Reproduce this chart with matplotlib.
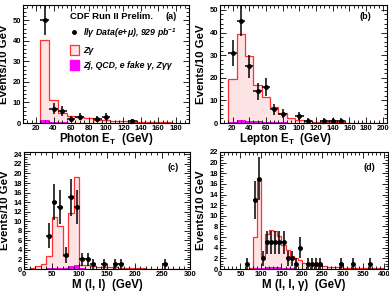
import numpy as np
import matplotlib.pyplot as plt
from matplotlib.ticker import MultipleLocator
from matplotlib.patches import Patch
from matplotlib.lines import Line2D

plt.rcParams['font.family'] = ['Liberation Sans', 'DejaVu Sans']
plt.rcParams['font.weight'] = 'bold'
plt.rcParams['hatch.linewidth'] = 0.4
plt.rcParams['hatch.color'] = '#f08080'

# ---- (a) photon ET ----
a_edges = np.arange(25, 195, 10)
a_zg = [40.5, 11.0, 4.8, 3.6, 2.9, 2.2, 1.6, 1.3, 1.0, 0.8, 0.6, 0.5, 0.4, 0.3, 0.3, 0.2]
a_bkg = [1.5, 0.6, 0.3, 0.2, 0.2, 0.1, 0.1, 0.1, 0.0, 0.0, 0.0, 0.0, 0.0, 0.0, 0.0, 0.0]
a_x = [30, 40, 50, 60, 70, 90, 100, 130]
a_n = [50, 7, 6, 2, 3, 2, 3, 1]
a_err = [7.1, 2.6, 2.4, 1.4, 1.7, 1.4, 1.7, 1.0]

# ---- (b) lepton ET ----
b_edges = np.arange(15, 205, 10)
b_zg = [19.5, 39.5, 29.5, 17.0, 11.5, 7.0, 4.5, 2.2, 1.5, 0.8, 0.6, 0.5, 0.4, 0.3, 0.2, 0.2, 0.1, 0.1]
b_bkg = [0.5, 1.2, 1.0, 0.7, 0.5, 0.4, 0.3, 0.2, 0.1, 0.1, 0.0, 0.0, 0.0, 0.0, 0.0, 0.0, 0.0, 0.0]
b_x = [20, 30, 40, 50, 60, 70, 80, 100, 110, 130, 140, 150]
b_n = [31, 45, 25, 14, 16, 6, 4, 3, 1, 1, 1, 1]
b_err = [5.6, 6.7, 5.0, 3.7, 4.0, 2.4, 2.0, 1.7, 1.0, 1.0, 1.0, 1.0]

# ---- (c) M(l,l) ----
c_edges = np.arange(10, 300, 10)
c_zg = [0.3, 0.6, 1.0, 2.8, 10.9, 9.0, 2.8, 11.8, 19.3, 0.9, 0.8, 0.6, 0.5, 0.5, 0.4,
        0.4, 0.3, 0.3, 0.2, 0.2, 0.2, 0.1, 0.1, 0.1, 0.1, 0.1, 0.1, 0.1]
c_bkg = [0.0, 0.0, 0.1, 0.2, 0.3, 0.3, 0.3, 0.6, 0.9, 0.3, 0.1, 0.1, 0.0, 0.0, 0.0,
         0.0, 0.0, 0.0, 0.0, 0.0, 0.0, 0.0, 0.0, 0.0, 0.0, 0.0, 0.0, 0.0]
c_x = [45, 55, 65, 75, 85, 95, 105, 115, 125, 145, 165, 175, 255]
c_n = [7, 14, 13, 3, 15, 13, 2, 2, 1, 1, 1, 1, 1]
c_err = [2.6, 3.7, 3.6, 1.7, 3.9, 3.6, 1.4, 1.4, 1.0, 1.0, 1.0, 1.0, 1.0]

# ---- (d) M(l,l,gamma) ----
d_edges = np.arange(70, 410, 10)
d_zg = [0.1, 6.0, 17.0, 2.5, 6.5, 7.3, 7.2, 6.2, 4.6, 3.5, 2.5, 2.0, 1.6, 1.2, 1.0, 0.8,
        0.8, 0.6, 0.5, 0.4, 0.3, 0.3, 0.3, 0.2, 0.2, 0.2, 0.1, 0.1, 0.1, 0.1, 0.1, 0.1, 0.1]
d_bkg = [0.0, 0.1, 0.2, 0.2, 0.3, 0.3, 0.3, 0.3, 0.2, 0.1, 0.1, 0.0, 0.0, 0.0, 0.0, 0.0,
         0.0, 0.0, 0.0, 0.0, 0.0, 0.0, 0.0, 0.0, 0.0, 0.0, 0.0, 0.0, 0.0, 0.0, 0.0, 0.0, 0.0]
d_x = [65, 85, 95, 105, 115, 125, 135, 145, 155, 165, 175, 185, 195, 215, 225, 235, 245, 295, 325, 365]
d_n = [1, 13, 17, 2, 5, 5, 5, 5, 5, 2, 2, 1, 4, 1, 1, 1, 1, 1, 1, 1]
d_err = [1.0, 3.6, 4.1, 1.4, 2.2, 2.2, 2.2, 2.2, 2.2, 1.4, 1.4, 1.0, 2.0, 1.0, 1.0, 1.0, 1.0, 1.0, 1.0, 1.0]

PINK = '#fde3e3'
RED = '#ff3030'
MAG = '#ff00ff'

fig = plt.figure(figsize=(3.89, 3.01), dpi=100)


def panel(rect, edges, zg, bkg, x, n, err, xlim, ylim, xmaj, xmin, ymaj, ymin, xlabel, tag, tagpos):
    ax = fig.add_axes(rect)
    ax.stairs(zg, edges, fill=True, facecolor=PINK, hatch='xxxx', edgecolor='none', linewidth=0)
    ax.stairs(zg, edges, color=RED, linewidth=0.9)
    ax.stairs(bkg, edges, fill=True, color=MAG, linewidth=0)
    ax.errorbar(x, n, yerr=err, xerr=5, fmt='o', color='black', ms=2.5,
                elinewidth=1.1, capsize=0, zorder=5)
    ax.set_xlim(*xlim)
    ax.set_ylim(*ylim)
    ax.xaxis.set_major_locator(MultipleLocator(xmaj))
    ax.xaxis.set_minor_locator(MultipleLocator(xmin))
    ax.yaxis.set_major_locator(MultipleLocator(ymaj))
    ax.yaxis.set_minor_locator(MultipleLocator(ymin))
    ax.tick_params(which='both', direction='in', top=True, right=True, width=0.6,
                   labelsize=5.5, pad=1.5)
    ax.tick_params(which='major', length=4)
    ax.tick_params(which='minor', length=2)
    for s in ax.spines.values():
        s.set_linewidth(0.8)
    ax.set_xlabel(xlabel, fontsize=8.3, fontweight='bold')
    ax.set_ylabel('Events/10 GeV', fontsize=8.2, fontweight='bold')
    ax.yaxis.set_label_coords(-0.085, 0.5)
    ax.text(tagpos[0], tagpos[1], tag, transform=ax.transAxes, fontsize=6.5,
            fontweight='bold', ha='center', va='center')
    return ax


ax_a = panel([23/389, 1-123/301, 166/389, 118/301], a_edges, a_zg, a_bkg, a_x, a_n, a_err,
             (5, 195), (0, 57.5), 20, 5, 10, 2,
             'Photon E$_{\\mathregular{T}}$  (GeV)', '(a)', (0.89, 0.90))
ax_b = panel([220/389, 1-123/301, 167/389, 118/301], b_edges, b_zg, b_bkg, b_x, b_n, b_err,
             (5, 205), (0, 52.2), 20, 5, 10, 2,
             'Lepton E$_{\\mathregular{T}}$  (GeV)', '(b)', (0.87, 0.90))
ax_c = panel([24/389, 1-269/301, 166/389, 117/301], c_edges, c_zg, c_bkg, c_x, c_n, c_err,
             (0, 300), (0, 24.5), 50, 10, 2, 0.5,
             'M (l, l)  (GeV)', '(c)', (0.90, 0.87))
ax_d = panel([220/389, 1-269/301, 168/389, 117/301], d_edges, d_zg, d_bkg, d_x, d_n, d_err,
             (0, 410), (0, 22), 50, 10, 2, 0.5,
             'M (l, l, γ)  (GeV)', '(d)', (0.89, 0.87))

for ax in (ax_a, ax_b, ax_c, ax_d):
    ax.xaxis.set_label_coords(0.5, -0.135)
    ax.xaxis.label.set_va('center')
ax_b.xaxis.set_label_coords(0.39, -0.135)

handles = [
    Line2D([], [], marker='o', color='black', linestyle='none', ms=2.5),
    Patch(facecolor=PINK, edgecolor=RED, linewidth=0.9),
    Patch(facecolor=MAG, edgecolor=MAG),
]
labels = ['llγ Data(e+μ), 929 pb$^{\\mathregular{-1}}$', 'Zγ', 'Zj, QCD, e fake γ, Zγγ']
leg = ax_a.legend(handles, labels, loc='upper left', bbox_to_anchor=(0.26, 0.97),
                  frameon=False, prop={'style': 'italic', 'weight': 'bold', 'size': 6.3},
                  title='CDF Run II Prelim.', title_fontproperties={'weight': 'bold', 'size': 6.8},
                  handlelength=1.1, handleheight=1.3, handletextpad=0.4, labelspacing=0.6,
                  borderaxespad=0, alignment='left')

fig.savefig('out.png', dpi=100)
